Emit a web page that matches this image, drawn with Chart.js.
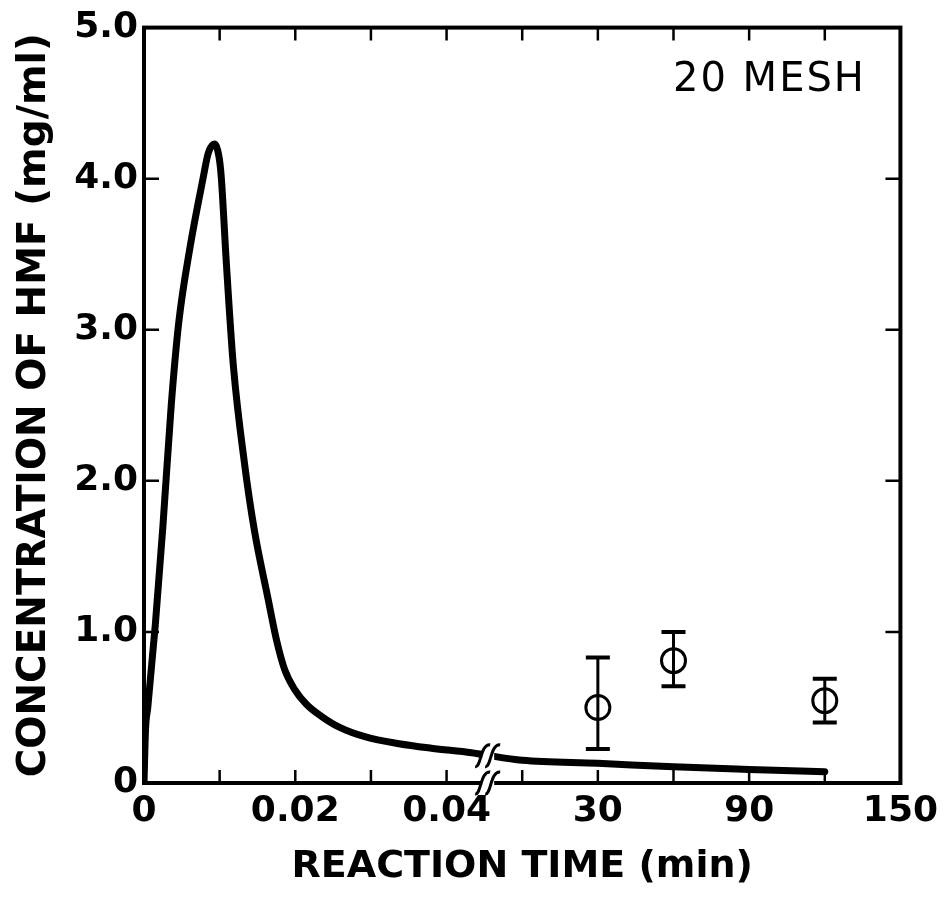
<!DOCTYPE html>
<html>
<head>
<meta charset="utf-8">
<script src="https://cdn.jsdelivr.net/npm/chart.js@4.4.1/dist/chart.umd.min.js"></script>
<style>
  html, body { margin: 0; padding: 0; background: #fff; }
  canvas { display: block; }
</style>
</head>
<body>
<canvas id="hmfChart" width="945" height="900"></canvas>
<script>
// model curve, first part of the axis (minutes, 0 - 0.045)
const shortTimes = [0, 0.0002, 0.0005, 0.0015, 0.0025, 0.0036, 0.0046, 0.0061, 0.0078, 0.0085, 0.0093, 0.0099, 0.0102, 0.0109, 0.0118, 0.0133, 0.0146, 0.0164, 0.0175, 0.0186, 0.0199, 0.0215, 0.0235, 0.0258, 0.0293, 0.0337, 0.0380, 0.0433, 0.0446];
const shortConc  = [0, 0.35, 0.50, 1.05, 1.70, 2.50, 3.05, 3.55, 4.00, 4.17, 4.23, 4.15, 4.02, 3.43, 2.77, 2.11, 1.67, 1.22, 0.95, 0.75, 0.62, 0.52, 0.44, 0.37, 0.305, 0.26, 0.23, 0.20, 0.19];

// model curve, second part of the axis (minutes, after the break)
const longTimes = [0, 30, 60, 90, 120];
const longConc  = [0.15, 0.13, 0.107, 0.09, 0.075];

// measured points with error bars
const pointTimes = [30, 60, 120];
const pointConc  = [0.50, 0.81, 0.545];
const errHigh    = [0.83, 1.00, 0.69];
const errLow     = [0.225, 0.64, 0.40];

// axis labels
const xTickLabels = ['0', '0.02', '0.04', '30', '90', '150'];
const xTickAt     = [[0, 'short'], [0.02, 'short'], [0.04, 'short'], [30, 'long'], [90, 'long'], [150, 'long']];
const yTickLabels = ['0', '1.0', '2.0', '3.0', '4.0', '5.0'];

// broken axis: both parts drawn on one linear scale of 10 tick units
const shortU = t => t / 0.01;
const longU  = t => 5 + t / 30;
const toU = (t, part) => part === 'short' ? shortU(t) : longU(t);
const BREAK_U = 4.55;

const labelByU = {};
xTickAt.forEach(([t, part], i) => { labelByU[Math.round(toU(t, part))] = xTickLabels[i]; });

const curveData = shortTimes.map((t, i) => ({ x: shortU(t), y: shortConc[i] }))
  .concat(longTimes.map((t, i) => ({ x: longU(t), y: longConc[i] })));
const pointData = pointTimes.map((t, i) => ({ x: longU(t), y: pointConc[i] }));

const FONT = "'DejaVu Sans', 'Liberation Sans', Arial, sans-serif";

function breakMark(ctx, cx, cy, gapH) {
    ctx.fillStyle = '#fff';
    ctx.fillRect(cx - 6, cy - gapH / 2, 12, gapH);
    ctx.strokeStyle = '#000';
    ctx.lineWidth = 3;
    [-5, 5].forEach(dx => {
        const x = cx + dx;
        ctx.beginPath();
        ctx.moveTo(x - 8, cy + 11);
        ctx.bezierCurveTo(x - 2, cy + 12, x - 3, cy - 12, x + 7, cy - 11);
        ctx.stroke();
    });
}

const framePlugin = {
    id: 'frame',
    afterDatasetDraw(chart, args) {
        if (args.index !== 0) return;
        const { ctx, scales: { x, y } } = chart;
        ctx.save();
        ctx.strokeStyle = '#000';
        pointTimes.forEach((t, i) => {
            const px = x.getPixelForValue(longU(t));
            const top = y.getPixelForValue(errHigh[i]);
            const bot = y.getPixelForValue(errLow[i]);
            ctx.lineWidth = 3;
            ctx.beginPath();
            ctx.moveTo(px, top); ctx.lineTo(px, bot);
            ctx.stroke();
            ctx.lineWidth = 4;
            ctx.beginPath();
            ctx.moveTo(px - 12, top); ctx.lineTo(px + 12, top);
            ctx.moveTo(px - 12, bot); ctx.lineTo(px + 12, bot);
            ctx.stroke();
        });
        ctx.restore();
    },
    afterDraw(chart) {
        const { ctx, chartArea: a, scales: { x, y } } = chart;
        ctx.save();
        ctx.strokeStyle = '#000';

        // inward ticks on all four sides
        ctx.lineWidth = 2.5;
        ctx.beginPath();
        for (let u = 1; u < 10; u++) {
            const px = x.getPixelForValue(u);
            ctx.moveTo(px, a.bottom); ctx.lineTo(px, a.bottom - 13);
            ctx.moveTo(px, a.top); ctx.lineTo(px, a.top + 13);
        }
        for (let v = 1; v < 5; v++) {
            const py = y.getPixelForValue(v);
            ctx.moveTo(a.left, py); ctx.lineTo(a.left + 15, py);
            ctx.moveTo(a.right, py); ctx.lineTo(a.right - 15, py);
        }
        ctx.stroke();

        // frame
        ctx.lineWidth = 4;
        ctx.lineJoin = 'miter';
        ctx.strokeRect(a.left, a.top, a.right - a.left, a.bottom - a.top);

        // breaks on the axis and on the curve
        const bx = x.getPixelForValue(BREAK_U);
        breakMark(ctx, bx, a.bottom, 8);
        const lastShort = shortConc[shortConc.length - 1];
        const firstLong = longConc[0];
        const cy = y.getPixelForValue((lastShort + firstLong) / 2 + 0.01);
        breakMark(ctx, bx, cy, 14);

        // panel note
        ctx.fillStyle = '#000';
        ctx.font = "40px " + FONT;
        ctx.letterSpacing = '2px';
        ctx.textBaseline = 'alphabetic';
        ctx.textAlign = 'left';
        ctx.fillText('20 MESH', 673, 91);
        ctx.restore();
    }
};

const ctx = document.getElementById('hmfChart').getContext('2d');
new Chart(ctx, {
    type: 'scatter',
    data: {
        datasets: [
            {
                type: 'line',
                data: curveData,
                borderColor: '#000',
                borderWidth: 7,
                pointRadius: 0,
                fill: false,
                cubicInterpolationMode: 'monotone',
                borderCapStyle: 'round',
                borderJoinStyle: 'round'
            },
            {
                type: 'scatter',
                data: pointData,
                pointRadius: 12,
                pointBorderWidth: 3,
                pointBackgroundColor: '#fff',
                pointBorderColor: '#000'
            }
        ]
    },
    options: {
        responsive: false,
        animation: false,
        layout: { padding: { left: 0, right: 41, top: 24, bottom: 0 } },
        plugins: { legend: { display: false }, tooltip: { enabled: false } },
        scales: {
            x: {
                type: 'linear',
                min: 0,
                max: 10,
                afterFit: s => { s.height = 117; },
                grid: { display: false, drawTicks: false },
                border: { display: false },
                ticks: {
                    stepSize: 1,
                    autoSkip: false,
                    maxRotation: 0,
                    padding: 7,
                    color: '#000',
                    font: { family: FONT, size: 36, weight: 'bold' },
                    callback: v => labelByU[v] !== undefined ? labelByU[v] : ''
                },
                title: {
                    display: true,
                    text: 'REACTION TIME (min)',
                    color: '#000',
                    font: { family: FONT, size: 38, weight: 'bold' },
                    padding: { top: 0, bottom: 10 }
                }
            },
            y: {
                min: 0,
                max: 5,
                afterFit: s => { s.width = 144; },
                grid: { display: false, drawTicks: false },
                border: { display: false },
                ticks: {
                    stepSize: 1,
                    padding: 6,
                    color: '#000',
                    font: { family: FONT, size: 36, weight: 'bold' },
                    callback: v => yTickLabels[v]
                },
                title: {
                    display: true,
                    text: 'CONCENTRATION OF HMF (mg/ml)',
                    color: '#000',
                    font: { family: FONT, size: 39, weight: 'bold' },
                    padding: { top: 11, bottom: 0 }
                }
            }
        }
    },
    plugins: [framePlugin]
});
</script>
</body>
</html>
